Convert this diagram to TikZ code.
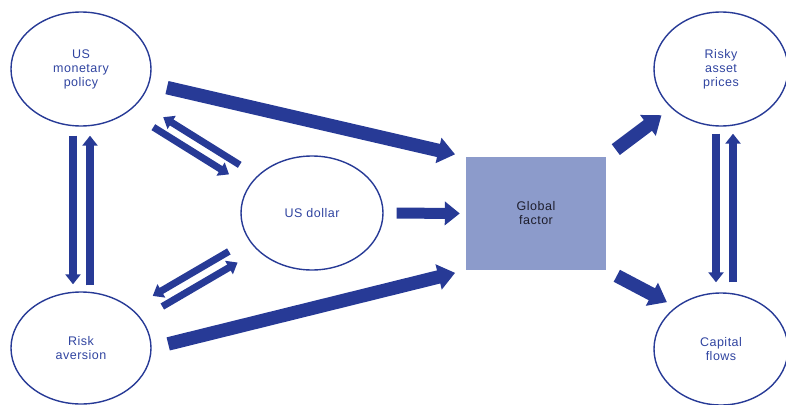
\documentclass[tikz,border=0pt]{standalone}
\usepackage{fontspec}
\setmainfont{Liberation Sans}[LetterSpace=4]
\usepackage{tikz}
\usetikzlibrary{shapes.geometric,arrows.meta}
\definecolor{arrowblue}{RGB}{39,58,150}
\definecolor{textblue}{RGB}{48,68,160}
\definecolor{boxblue}{RGB}{140,155,203}
\definecolor{boxtext}{RGB}{30,30,45}

\begin{document}
\begin{tikzpicture}[x=1pt,y=-1pt,
  oval/.style={ellipse,draw=arrowblue,line width=1.4pt,minimum width=140pt,
    minimum height=114pt,inner sep=0pt,align=center,text=textblue,
    font=\fontsize{12.5}{14}\selectfont},
  bigarrow/.style={color=arrowblue,line width=13.5pt,-{Triangle[width=25pt,length=17pt]}},
  midarrow/.style={color=arrowblue,line width=11pt,-{Triangle[width=23pt,length=15pt]}},
  pairarrow/.style={color=arrowblue,line width=7.5pt,-{Triangle[width=15pt,length=10pt]}}]
  \useasboundingbox (0,0) rectangle (786,404);
  \node(mp) [oval] at (81,69) {US\\monetary\\policy};
  \node(ud) [oval,minimum width=142pt] at (312,213) {US dollar};
  \node(ra) [oval,minimum height=112pt] at (81,348) {Risk\\aversion};
  \node(gf) [fill=boxblue,minimum width=140pt,minimum height=113pt,inner sep=0pt,
    align=center,text=boxtext,font=\fontsize{12.5}{14}\selectfont] at (536,213.5) {Global\\factor};
  \node(ap) [oval,minimum width=134pt] at (721,69) {Risky\\asset\\prices};
  \node(cf) [oval,minimum width=134pt,minimum height=112pt] at (721,349) {Capital\\flows};
  \draw[bigarrow,shorten <=18pt,shorten >=11pt] (mp.-12) -- (gf.north west);
  \draw[bigarrow,shorten <=17pt,shorten >=11pt] (ra.east) -- (gf.south west);
  \draw[midarrow,shorten <=13pt,shorten >=6pt] (ud.east) -- (gf.west);
  \draw[bigarrow,shorten <=12pt,shorten >=12pt] (gf.north east) -- (ap.218);
  \draw[bigarrow,shorten <=12pt,shorten >=10pt] (gf.south east) -- (cf.137);
  \draw[pairarrow,shorten <=9pt,shorten >=7pt] ([xshift=-8pt]mp.south) -- ([xshift=-8pt]ra.north);
  \draw[pairarrow,shorten <=6pt,shorten >=9pt] ([xshift=9pt]ra.north) -- ([xshift=9pt]mp.south);
  \draw[pairarrow,shorten <=7pt,shorten >=10pt] ([xshift=-5pt]ap.south) -- ([xshift=-5pt]cf.north);
  \draw[pairarrow,shorten <=10pt,shorten >=7pt] ([xshift=12pt]cf.north) -- ([xshift=12pt]ap.south);
  \draw[pairarrow,line width=7pt,transform canvas={shift={(1.4,-2.2)}},shorten <=20pt,shorten >=29pt] (ud) -- (mp);
  \draw[pairarrow,line width=7pt,transform canvas={shift={(-5.9,9.4)}},shorten <=26pt,shorten >=24pt] (mp) -- (ud);
  \draw[pairarrow,line width=7pt,transform canvas={shift={(-4.4,-7.6)}},shorten <=24pt,shorten >=22pt] (ud) -- (ra);
  \draw[pairarrow,line width=7pt,transform canvas={shift={(2.6,4.5)}},shorten <=25pt,shorten >=22pt] (ra) -- (ud);
\end{tikzpicture}
\end{document}
